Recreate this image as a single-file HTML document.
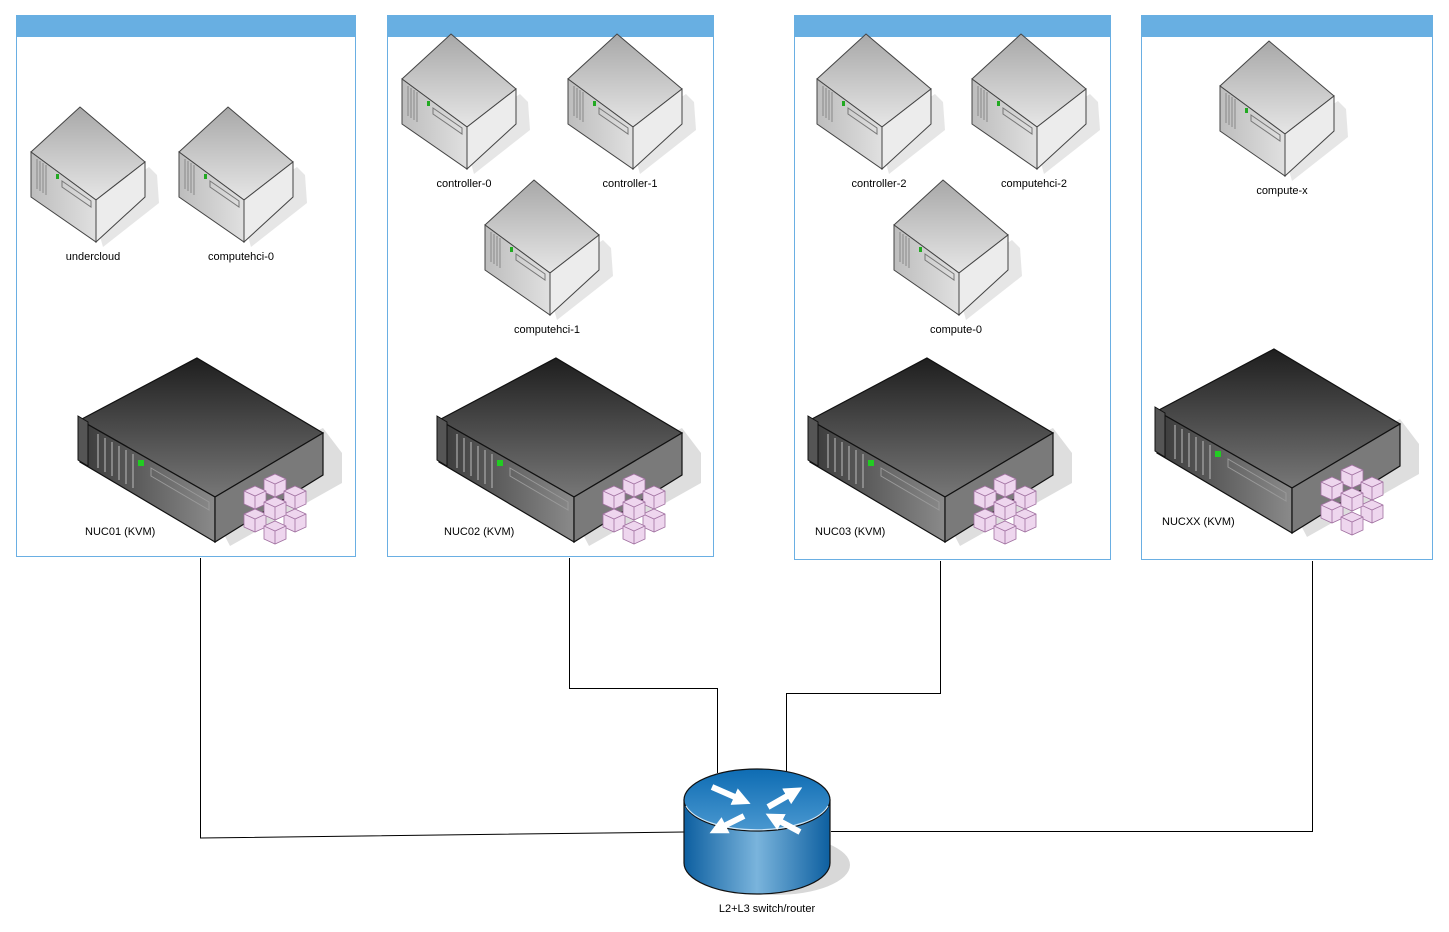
<!DOCTYPE html>
<html><head><meta charset="utf-8"><style>
html,body{margin:0;padding:0;background:#fff;}
svg{display:block;font-family:"Liberation Sans",sans-serif;}
</style></head><body>
<svg width="1449" height="932" viewBox="0 0 1449 932" xmlns="http://www.w3.org/2000/svg">
<defs>
<linearGradient id="stop" x1="0" y1="0" x2="0" y2="1"><stop offset="0" stop-color="#a8a8a8"/><stop offset="1" stop-color="#e6e6e6"/></linearGradient>
<linearGradient id="sfront" x1="0" y1="0" x2="1" y2="0"><stop offset="0" stop-color="#bdbdbd"/><stop offset="1" stop-color="#e0e0e0"/></linearGradient>
<linearGradient id="btop" x1="0" y1="0" x2="0" y2="1"><stop offset="0" stop-color="#1e1e1e"/><stop offset="1" stop-color="#777"/></linearGradient>
<linearGradient id="bfront" x1="0" y1="0" x2="1" y2="0"><stop offset="0" stop-color="#3a3a3a"/><stop offset="1" stop-color="#8a8a8a"/></linearGradient>
<linearGradient id="rside" x1="0" y1="0" x2="1" y2="0"><stop offset="0" stop-color="#0d5fa0"/><stop offset="0.5" stop-color="#7ab4dc"/><stop offset="1" stop-color="#0d5fa0"/></linearGradient>
<linearGradient id="rtop" x1="0" y1="0" x2="0" y2="1"><stop offset="0" stop-color="#0e6cb3"/><stop offset="1" stop-color="#4a98d0"/></linearGradient>
<marker id="ah" viewBox="0 0 10 10" refX="6" refY="5" markerWidth="3" markerHeight="3" orient="auto"><path d="M0,0 L10,5 L0,10 Z" fill="#fff"/></marker>
<g id="small">
<path d="M60,98 L118,60 L126,68 L128,96 L72,140 Z" fill="#e0e0e0" opacity="0.8"/>
<path d="M49,0 L114,55 L65,93 L0,45 Z" fill="url(#stop)" stroke="#444" stroke-width="1"/>
<path d="M0,45 L65,93 L65,135 L0,90 Z" fill="url(#sfront)" stroke="#444" stroke-width="1"/>
<path d="M65,93 L114,55 L114,90 L65,135 Z" fill="#ececec" stroke="#444" stroke-width="1"/>
<path d="M6,52 v30 M9,54 v30 M12,56 v30 M15,58 v30" stroke="#888" stroke-width="1"/>
<rect x="25" y="67" width="3" height="5" fill="#2a2"/>
<path d="M31,74 L60,94 L60,100 L31,80 Z" fill="none" stroke="#777"/>
</g>
<g id="cube"><path d="M0,-9 L11,-4 L11,9 L0,14 L-11,9 L-11,-4 Z" fill="#eed6ee" stroke="#a070a0" stroke-width="0.8"/><path d="M-11,-4 L0,1 L11,-4 M0,1 V14" fill="none" stroke="#a070a0" stroke-width="0.8"/></g>
<g id="big">
<path d="M120,130 L243,70 L262,95 L262,125 L150,188 Z" fill="#d6d6d6" opacity="0.8"/>
<path d="M117,0 L243,75 L135,139 L0,62 Z" fill="url(#btop)" stroke="#111" stroke-width="1.2"/>
<path d="M0,62 L135,139 L135,184 L0,104 Z" fill="url(#bfront)" stroke="#111" stroke-width="1.2"/>
<path d="M135,139 L243,75 L243,117 L135,184 Z" fill="#7a7a7a" stroke="#111" stroke-width="1.2"/>
<path d="M-2,58 L8,64 L8,108 L-2,102 Z" fill="#555" stroke="#111"/>
<path d="M18,76 v34 M25,80 v34 M32,84 v34 M39,88 v34 M46,92 v34 M53,96 v34" stroke="#aaa" stroke-width="1.2"/>
<rect x="58" y="102" width="6" height="6" fill="#2c2"/>
<path d="M71,110 L129,144 L129,152 L71,118 Z" fill="none" stroke="#999"/>
<use href="#cube" x="195" y="125"/><use href="#cube" x="175" y="137"/><use href="#cube" x="215" y="137"/>
<use href="#cube" x="175" y="160"/><use href="#cube" x="215" y="160"/><use href="#cube" x="195" y="172"/>
<use href="#cube" x="195" y="148"/>
</g>
</defs>
<g fill="#fff" stroke="#6aafe3" stroke-width="1">
<rect x="16.5" y="15.5" width="339" height="541"/>
<rect x="387.5" y="15.5" width="326" height="541"/>
<rect x="794.5" y="15.5" width="316" height="544"/>
<rect x="1141.5" y="15.5" width="291" height="544"/>
</g>
<g fill="#68afe2">
<rect x="16" y="15" width="340" height="22"/>
<rect x="387" y="15" width="327" height="22"/>
<rect x="794" y="15" width="317" height="22"/>
<rect x="1141" y="15" width="292" height="22"/>
</g>
<g fill="none" stroke="#000" stroke-width="1">
<path d="M200.5,558 V838 L684,832"/>
<path d="M569.5,558 V688.5 H717.5 V773"/>
<path d="M940.5,561 V693.5 H786.5 V771"/>
<path d="M1312.5,561 V831.5 H831"/>
</g>
<use href="#small" x="31" y="107"/><use href="#small" x="179" y="107"/>
<use href="#small" x="402" y="34"/><use href="#small" x="568" y="34"/><use href="#small" x="485" y="180"/>
<use href="#small" x="817" y="34"/><use href="#small" x="972" y="34"/><use href="#small" x="894" y="180"/>
<use href="#small" x="1220" y="41"/>
<use href="#big" x="80" y="358"/><use href="#big" x="439" y="358"/><use href="#big" x="810" y="358"/><use href="#big" x="1157" y="349"/>
<g font-size="11" fill="#000" text-anchor="middle">
<text x="93" y="260">undercloud</text><text x="241" y="260">computehci-0</text>
<text x="464" y="187">controller-0</text><text x="630" y="187">controller-1</text><text x="547" y="333">computehci-1</text>
<text x="879" y="187">controller-2</text><text x="1034" y="187">computehci-2</text><text x="956" y="333">compute-0</text>
<text x="1282" y="194">compute-x</text>
<text x="767" y="912">L2+L3 switch/router</text>
</g>
<g font-size="11" fill="#000">
<text x="85" y="535">NUC01 (KVM)</text><text x="444" y="535">NUC02 (KVM)</text><text x="815" y="535">NUC03 (KVM)</text><text x="1162" y="525">NUCXX (KVM)</text>
</g>
<ellipse cx="775" cy="865" rx="75" ry="30" fill="#d8d8d8"/>
<path d="M684,800 V863 A73,31 0 0 0 830,863 V800 Z" fill="url(#rside)" stroke="#111" stroke-width="1.2"/>
<ellipse cx="757" cy="800" rx="73" ry="31" fill="url(#rtop)" stroke="#111" stroke-width="1.2"/>
<path d="M686,806 A73,31 0 0 0 828,806" fill="none" stroke="#cfe6f6" stroke-width="1.2"/>
<g stroke="#fff" stroke-width="6" fill="none" marker-end="url(#ah)">
<path d="M712,787 L744,801"/>
<path d="M768,807 L796,791"/>
<path d="M744,816 L716,830"/>
<path d="M800,832 L772,817"/>
</g>
</svg>
</body></html>
